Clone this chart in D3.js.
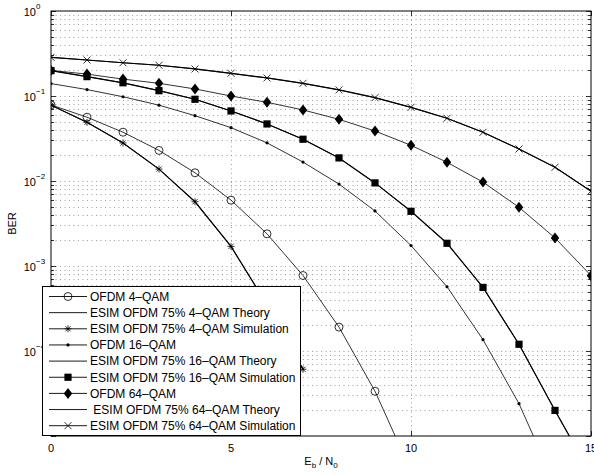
<!DOCTYPE html>
<html lang='en'>
<head>
  <meta charset='utf-8'>
  <title>BER vs Eb/N0</title>
  <script src='https://d3js.org/d3.v7.min.js'></script>
  <style>
  body { margin: 0; background: #fff; }
  text { font-family: 'Liberation Sans', Arial, Helvetica, sans-serif; fill: #000; }
  .grid line { stroke: #777; stroke-width: 0.7; stroke-dasharray: 1,3.5; }
  </style>
</head>
<body>
<script>
// Eb/N0 in dB, one point per integer
var ebno = d3.range(0, 16);

// BER values (each series starts at 0 dB)
var ofdm4  = [0.0786, 0.0563, 0.0375, 0.0229, 0.0125, 0.00595, 0.00239, 7.73e-4, 1.91e-4, 3.36e-5, 3.87e-6];
var esim4  = [0.078, 0.049, 0.028, 0.0138, 0.0057, 0.0017, 3.5e-4, 6.1e-5];
var ofdm16 = [0.140, 0.119, 0.098, 0.078, 0.0587, 0.0424, 0.0281, 0.0167, 0.0092, 0.00444, 0.00174, 5.7e-4, 1.36e-4, 2.4e-5, 2.7e-6];
var esim16 = [0.199, 0.169, 0.143, 0.1155, 0.0915, 0.0667, 0.0469, 0.031, 0.0187, 0.0095, 0.0044, 0.00185, 5.6e-4, 1.2e-4, 2.0e-5, 3.5e-6];
var ofdm64 = [0.200, 0.181, 0.158, 0.141, 0.121, 0.100, 0.0843, 0.0685, 0.0532, 0.0387, 0.0263, 0.0166, 0.0097, 0.0049, 0.00214, 7.7e-4];
var esim64 = [0.285, 0.265, 0.246, 0.230, 0.208, 0.185, 0.163, 0.141, 0.118, 0.0955, 0.0736, 0.0547, 0.0374, 0.0238, 0.0145, 0.0076];

var xTicks = [0, 5, 10, 15];
var yTicks = [1, 0.1, 0.01, 0.001, 1e-4];
var yExp = ['0', '\u22121', '\u22122', '\u22123', '\u22124'];

// legend entries, in plot order
var series = [
  {name: 'OFDM 4\u2013QAM', values: ofdm4, marker: 'circle', lw: 0.8},
  {name: 'ESIM OFDM 75% 4\u2013QAM Theory', values: esim4, marker: 'none', lw: 0.8},
  {name: 'ESIM OFDM 75% 4\u2013QAM Simulation', values: esim4, marker: 'star', lw: 1.2},
  {name: 'OFDM 16\u2013QAM', values: ofdm16, marker: 'dot', lw: 0.8},
  {name: 'ESIM OFDM 75% 16\u2013QAM Theory', values: esim16, marker: 'none', lw: 0.8},
  {name: 'ESIM OFDM 75% 16\u2013QAM Simulation', values: esim16, marker: 'square', lw: 1.2},
  {name: 'OFDM 64\u2013QAM', values: ofdm64, marker: 'diamond', lw: 0.8},
  {name: ' ESIM OFDM 75% 64\u2013QAM Theory', values: esim64, marker: 'none', lw: 0.8},
  {name: 'ESIM OFDM 75% 64\u2013QAM Simulation', values: esim64, marker: 'cross', lw: 1.2}
];

var width = 594, height = 475;
var pLeft = 51, pRight = 591, pTop = 11, pBottom = 436;

var svg = d3.select('body').append('svg')
  .attr('width', width)
  .attr('height', height);

var x = d3.scaleLinear().domain([0, 15]).range([pLeft, pRight]);
var y = d3.scaleLog().domain([1e-5, 1]).range([pBottom, pTop]);

svg.append('defs').append('clipPath').attr('id', 'plot')
  .append('rect')
  .attr('x', pLeft).attr('y', pTop)
  .attr('width', pRight - pLeft).attr('height', pBottom - pTop);

// dotted grid: every minor decade step plus vertical lines at the x ticks
var minor = [];
for (var e = -5; e < 0; e++) {
  for (var m = 1; m < 10; m++) minor.push(m * Math.pow(10, e));
}
var grid = svg.append('g').attr('class', 'grid');
grid.selectAll('.h')
  .data(minor.filter(function(v) { return v > 1e-5; }))
  .enter().append('line')
  .attr('x1', pLeft).attr('x2', pRight)
  .attr('y1', function(d) { return Math.round(y(d)) + 0.5; })
  .attr('y2', function(d) { return Math.round(y(d)) + 0.5; });
grid.selectAll('.v')
  .data([5, 10])
  .enter().append('line')
  .attr('y1', pTop).attr('y2', pBottom)
  .attr('x1', function(d) { return Math.round(x(d)) + 0.5; })
  .attr('x2', function(d) { return Math.round(x(d)) + 0.5; });

// ticks pointing inward on all four sides
var ticks = svg.append('g').attr('stroke', '#000').attr('stroke-width', 0.8);
minor.concat([1]).forEach(function(v) {
  var major = Math.abs(Math.log10(v) - Math.round(Math.log10(v))) < 1e-9;
  var len = major ? 5 : 3;
  var yy = Math.round(y(v)) + 0.5;
  ticks.append('line').attr('x1', pLeft).attr('x2', pLeft + len).attr('y1', yy).attr('y2', yy);
  ticks.append('line').attr('x1', pRight).attr('x2', pRight - len).attr('y1', yy).attr('y2', yy);
});
xTicks.forEach(function(v) {
  var xx = Math.round(x(v)) + 0.5;
  ticks.append('line').attr('x1', xx).attr('x2', xx).attr('y1', pBottom).attr('y2', pBottom - 5);
  ticks.append('line').attr('x1', xx).attr('x2', xx).attr('y1', pTop).attr('y2', pTop + 5);
});

var line = d3.line()
  .x(function(d, i) { return x(ebno[i]); })
  .y(function(d) { return y(d); });

var plot = svg.append('g').attr('clip-path', 'url(#plot)');

function drawMarker(g, type, cx, cy) {
  if (type === 'circle') {
    g.append('circle').attr('cx', cx).attr('cy', cy).attr('r', 4)
      .attr('fill', 'none').attr('stroke', '#000').attr('stroke-width', 0.8);
  } else if (type === 'dot') {
    g.append('circle').attr('cx', cx).attr('cy', cy).attr('r', 1.6).attr('fill', '#000');
  } else if (type === 'square') {
    g.append('rect').attr('x', cx - 3.6).attr('y', cy - 3.6)
      .attr('width', 7.2).attr('height', 7.2).attr('fill', '#000');
  } else if (type === 'diamond') {
    g.append('path').attr('d', 'M' + cx + ',' + (cy - 5.5) + 'L' + (cx + 4.2) + ',' + cy +
      'L' + cx + ',' + (cy + 5.5) + 'L' + (cx - 4.2) + ',' + cy + 'Z').attr('fill', '#000');
  } else if (type === 'cross') {
    var c = 3.5;
    g.append('path').attr('d', 'M' + (cx - c) + ',' + (cy - c) + 'L' + (cx + c) + ',' + (cy + c) +
      'M' + (cx - c) + ',' + (cy + c) + 'L' + (cx + c) + ',' + (cy - c))
      .attr('stroke', '#000').attr('stroke-width', 0.8);
  } else if (type === 'star') {
    var s = 3.5, t = 2.6;
    g.append('path').attr('d', 'M' + (cx - s) + ',' + cy + 'L' + (cx + s) + ',' + cy +
      'M' + cx + ',' + (cy - s) + 'L' + cx + ',' + (cy + s) +
      'M' + (cx - t) + ',' + (cy - t) + 'L' + (cx + t) + ',' + (cy + t) +
      'M' + (cx - t) + ',' + (cy + t) + 'L' + (cx + t) + ',' + (cy - t))
      .attr('stroke', '#000').attr('stroke-width', 0.8);
  }
}

series.forEach(function(s) {
  plot.append('path')
    .attr('d', line(s.values))
    .attr('fill', 'none')
    .attr('stroke', '#000')
    .attr('stroke-width', s.lw);
  s.values.forEach(function(v, i) {
    drawMarker(plot, s.marker, x(ebno[i]), y(v));
  });
});

// axes box
svg.append('rect')
  .attr('x', pLeft).attr('y', pTop)
  .attr('width', pRight - pLeft).attr('height', pBottom - pTop)
  .attr('fill', 'none').attr('stroke', '#000').attr('stroke-width', 1);

// tick labels
svg.selectAll('.xl')
  .data(xTicks)
  .enter().append('text')
  .attr('x', function(d) { return x(d); })
  .attr('y', 452)
  .attr('text-anchor', 'middle')
  .attr('font-size', 11)
  .text(function(d) { return d; });

yTicks.forEach(function(v, i) {
  svg.append('text')
    .attr('x', 36).attr('y', y(v) + 4.5)
    .attr('text-anchor', 'end').attr('font-size', 11)
    .text('10');
  svg.append('text')
    .attr('x', 36).attr('y', y(v) - 2.5)
    .attr('font-size', 8)
    .text(yExp[i]);
});

// axis titles
svg.append('text')
  .attr('transform', 'translate(16,' + (pTop + pBottom) / 2 + ') rotate(-90)')
  .attr('text-anchor', 'middle')
  .attr('font-size', 11)
  .text('BER');

var xt = svg.append('text')
  .attr('x', (pLeft + pRight) / 2).attr('y', 465)
  .attr('text-anchor', 'middle')
  .attr('font-size', 11);
xt.append('tspan').text('E');
xt.append('tspan').attr('font-size', 8).attr('dy', 3).text('b');
xt.append('tspan').attr('dy', -3).text(' / N');
xt.append('tspan').attr('font-size', 8).attr('dy', 3).text('0');

// legend
var lg = svg.append('g');
lg.append('rect')
  .attr('x', 42.5).attr('y', 286.5)
  .attr('width', 258).attr('height', 149)
  .attr('fill', '#fff').attr('stroke', '#000').attr('stroke-width', 1);

series.forEach(function(s, i) {
  var ry = 296.5 + i * 16.15;
  lg.append('line')
    .attr('x1', 49).attr('x2', 87).attr('y1', ry).attr('y2', ry)
    .attr('stroke', '#000').attr('stroke-width', 0.9);
  drawMarker(lg, s.marker, 68, ry);
  lg.append('text')
    .attr('x', 90).attr('y', ry + 4.3)
    .attr('font-size', 12)
    .style('white-space', 'pre')
    .text(s.name);
});
</script>
</body>
</html>
